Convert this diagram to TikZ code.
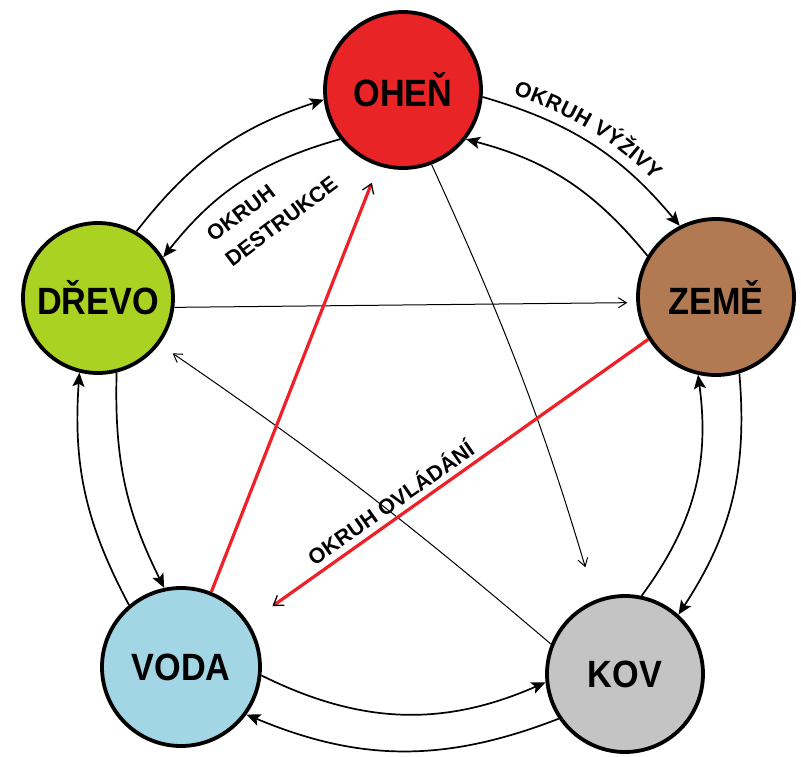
\documentclass[tikz,border=0pt]{standalone}
\usepackage{fontspec}
\setmainfont{Liberation Sans}
\newfontfamily\titlefamily[FakeStretch=0.9]{Liberation Sans}
\usetikzlibrary{arrows.meta,decorations.text}
\definecolor{firec}{RGB}{232,36,38}
\definecolor{woodc}{RGB}{170,210,34}
\definecolor{earthc}{RGB}{178,122,82}
\definecolor{waterc}{RGB}{162,214,228}
\definecolor{metalc}{RGB}{196,196,196}
\definecolor{redl}{RGB}{240,32,40}
\tikzset{
  elem/.style={circle, draw=black, line width=3.8pt, minimum size=156pt, inner sep=0pt,
    font=\titlefamily\bfseries\fontsize{38}{40}\selectfont},
  ring/.style={line width=1.7pt, -{Stealth[length=14pt,width=12pt,inset=3pt]}},
  thinarrow/.style={line width=1pt, -{Straight Barb[length=8pt,width=10pt,line width=1pt]}},
  redarrow/.style={draw=redl, line width=3.2pt, -{Straight Barb[black,length=9pt,width=12pt,line width=1.3pt]}},
  lab/.style={font=\bfseries\fontsize{21.5}{31}\selectfont}
}
\begin{document}
\begin{tikzpicture}[x=1pt,y=1pt]
\useasboundingbox (0,-757) rectangle (801,0);
\fill[white] (0,-757) rectangle (801,0);

\node[elem, fill=firec]  (o) at (403,-90)  {OHEŇ};
\node[elem, fill=woodc, minimum size=150pt] (d) at (98,-298) {DŘEVO};
\node[elem, fill=earthc] (z) at (716,-297) {ZEMĚ};
\node[elem, fill=waterc, minimum size=158pt] (v) at (181,-667) {VODA};
\node[elem, fill=metalc] (k) at (625,-674) {KOV};

% outer ring (clockwise)
\draw[ring] (d.60)  to[bend left=17] (o.187);
\draw[ring] (o.355) to[bend left=17] (z.117);
\draw[ring] (z.287) to[bend left=19] (k.48);
\draw[ring] (k.214) to[bend left=22] (v.324);
\draw[ring] (v.130) to[bend left=16] (d.256);
% inner ring (counter-clockwise)
\draw[ring] (o.218) to[bend right=18] (d.32);
\draw[ring] (z.149) to[bend right=18] (o.322);
\draw[ring] (k.78)  to[bend right=22] (z.257);
\draw[ring] (v.354) to[bend right=25] (k.186);
\draw[ring] (d.284) to[bend right=14] (v.102);

% star
\draw[thinarrow, shorten >=9pt] (d.-7) -- (z.184);
\draw[thinarrow, shorten >=34pt] (o.-69) to[bend left=4] (k.112);
\draw[thinarrow, shorten >=16pt] (k.158) to[bend right=3] (d.-37);
\draw[redarrow, shorten >=29pt] (z.212) -- (v.33);
\draw[redarrow, shorten >=18pt] (v.68) -- (o.252);

% labels
\path[decorate, decoration={text along path, text align={align=left, left indent=28pt}, raise=11pt,
  text={|\bfseries\fontsize{21.5}{21.5}\selectfont|OKRUH VÝŽIVY}}]
  (o.355) to[bend left=17] (z.117);
\node[lab, rotate=37, align=left] (ld) at (272,-209) {OKRUH\\DESTRUKCE};
\node[lab, rotate=35] (lo) at (390,-502) {OKRUH OVLÁDÁNÍ};
\end{tikzpicture}
\end{document}
